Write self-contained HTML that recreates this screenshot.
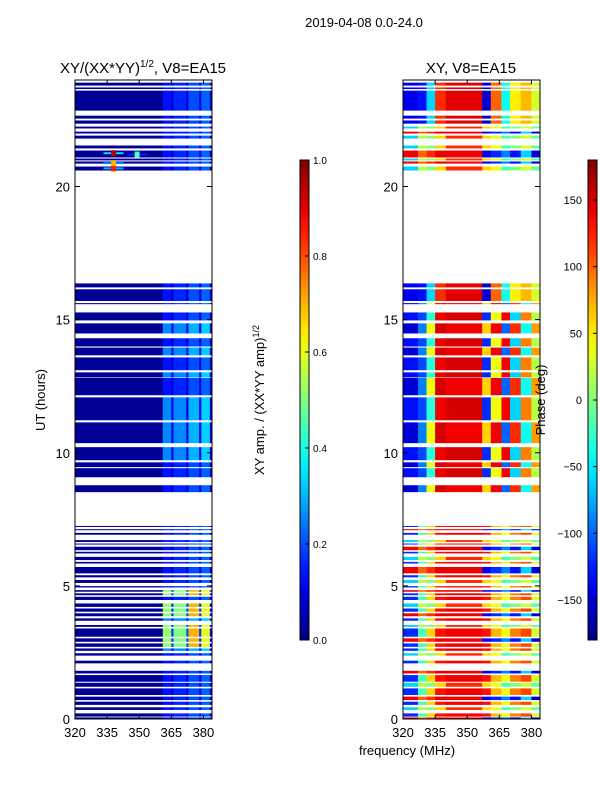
<!DOCTYPE html>
<html><head><meta charset="utf-8"><style>
body{margin:0;background:#fff;}
svg{font-family:"Liberation Sans",sans-serif;display:block}
</style></head><body>
<svg id="fig" width="600" height="800" xmlns="http://www.w3.org/2000/svg">
<text x="364" y="27" font-size="13" text-anchor="middle">2019-04-08 0.0-24.0</text>
<text x="143" y="73" font-size="15" text-anchor="middle">XY/(XX*YY)<tspan font-size="10" dy="-6">1/2</tspan><tspan dy="6">, V8=EA15</tspan></text>
<text x="471" y="73" font-size="15" text-anchor="middle">XY, V8=EA15</text>
<text x="45" y="400" font-size="13" text-anchor="middle" transform="rotate(-90 45 400)">UT (hours)</text>
<text x="407" y="755" font-size="13" text-anchor="middle">frequency (MHz)</text>
<text x="264" y="400" font-size="13" text-anchor="middle" transform="rotate(-90 264 400)">XY amp. / (XX*YY amp)<tspan font-size="9" dy="-5">1/2</tspan></text>
<g id="amp"></g>
<g id="ph"></g>
<g id="axes"></g>
<text x="545" y="400" font-size="13" text-anchor="middle" transform="rotate(-90 545 400)">Phase (deg)</text>
</svg>
<script>
const blockStart=[23.90,23.72,23.60,22.66,22.48,22.25,22.06,21.91,21.54,21.35,21.05,20.94,20.75,
16.36,16.14,15.62,15.27,14.86,14.30,13.95,13.58,13.02,12.81,12.08,11.14,10.21,9.64,9.42,8.78,
7.25,7.13,6.99,6.72,6.59,6.47,6.28,6.09,5.90,5.71,5.40,5.22,4.99,4.84,4.72,4.59,4.34,4.15,3.97,3.78,3.53,3.40,3.03,2.84,2.65,2.47,2.19,1.81,1.65,1.36,1.15,0.84,0.65,0.44,0.21,0.06];
const blockEnd=[23.79,23.66,22.85,22.55,22.36,22.18,21.99,21.80,21.43,21.09,20.98,20.86,20.60,
16.21,15.70,15.58,14.97,14.48,13.99,13.66,13.10,12.83,12.16,11.22,10.36,9.72,9.46,9.08,8.52,
7.22,7.09,6.92,6.65,6.56,6.34,6.22,5.97,5.84,5.47,5.32,5.11,4.94,4.78,4.65,4.47,4.21,4.03,3.86,3.69,3.46,3.09,2.90,2.71,2.56,2.38,2.09,1.71,1.40,1.21,0.90,0.71,0.53,0.34,0.09,0.00];
const ampProfile=["low","low","low","low","low","low","low","low","low","low","low","low","low",
"low","low","low","low","mid","low","mid","low","mid","low","mid","mid","mid","low","low","low",
"low","low","low","low","low","low","low","low","low","low","low","low","low","hot","hot","low","hot","hot","hot","mid","hot","hot","hot","hot","mid","low","low","low","low","low","low","low","low","low","low","low"];
const phaseProfile=["T1","T1","T1","T1","T1","L3","L2","L3","L3","L2","L3","L2","L3",
"T1","T1","P2","P1","P2","P1","P2","P1","P1","P2","P1","P2","P1","P2","P1","P2",
"L1","L2","L1","L3","L1","L2","L1","L3","L1","L2","L1","L3","L1","L2","L1","L1","L3","L1","L2","L1","L3","L1","L2","L1","L1","L3","L1","L2","L1","L3","L1","L2","L1","L3","L1","L2"];
const ampBandEdges=[320,361,365,366,372,373,378,379,383,384];
const ampLow=[0.02,0.14,0.08,0.16,0.08,0.2,0.09,0.22,0.08];
const ampMid=[0.02,0.26,0.12,0.26,0.12,0.3,0.12,0.33,0.1];
const ampHot=[0.02,0.52,0.18,0.5,0.2,0.7,0.18,0.6,0.12];
const phaseBandEdges=[320,327,331,335,340,357,361,366,370,375,380,384];
const phaseT1=[-140,-130,-60,120,145,-150,100,-40,50,70,30];
const phaseP1=[-130,-110,-30,140,150,-120,40,140,-60,90,20];
const phaseP2=[-150,-90,40,150,140,60,140,-100,120,-40,80];
const phaseL1=[-120,-20,60,130,140,130,70,40,90,110,30];
const phaseL2=[140,100,120,145,140,-140,-120,-90,-130,-60,-150];
const phaseL3=[-60,20,0,60,120,60,40,-20,0,30,-10];
const spotFreq=[338,338,338,349];
const spotHour=[21.25,20.68,20.88,21.2];
const spotAmp=[0.95,0.85,0.7,0.45];
const freqTicks=[320,335,350,365,380];
const hourTicks=[0,5,10,15,20];
const ampTicks=[0,0.2,0.4,0.6,0.8,1.0];
const ampTickLabels=["0.0","0.2","0.4","0.6","0.8","1.0"];
const phaseTicks=[-150,-100,-50,0,50,100,150];
const phaseTickLabels=["\u2212150","\u2212100","\u221250","0","50","100","150"];

const NS="http://www.w3.org/2000/svg";
const F0=320,F1=384,H0=0,H1=24,W=137;
const xL=f=>75+(f-F0)*W/(F1-F0);
const xR=f=>403+(f-F0)*W/(F1-F0);
const yH=h=>719-(h-H0)*639/(H1-H0);
const yA=v=>640-v*480;
const yP=p=>400-p*240/180;
function jet(v){v=Math.max(0,Math.min(1,v));
 const c=x=>Math.round(255*Math.max(0,Math.min(1,1.5-Math.abs(4*v-x))));
 return `rgb(${c(3)},${c(2)},${c(1)})`;}
function mk(tag,attrs,parent){const e=document.createElementNS(NS,tag);for(const k in attrs)e.setAttribute(k,attrs[k]);parent.appendChild(e);return e;}
const ampMap={low:ampLow,mid:ampMid,hot:ampHot};
const phMap={T1:phaseT1,P1:phaseP1,P2:phaseP2,L1:phaseL1,L2:phaseL2,L3:phaseL3};
const gA=document.getElementById('amp'),gP=document.getElementById('ph'),gX=document.getElementById('axes');
for(let i=0;i<blockStart.length;i++){
 const y1=yH(blockStart[i]),y2=yH(blockEnd[i]);
 const av=ampMap[ampProfile[i]];
 for(let b=0;b<av.length;b++){
  const r=mk('rect',{x:xL(ampBandEdges[b]),y:y1,width:xL(ampBandEdges[b+1])-xL(ampBandEdges[b])+0.3,height:Math.max(1,y2-y1),fill:jet(av[b])},gA);
  
  
 }
 const pv=phMap[phaseProfile[i]];
 for(let b=0;b<pv.length;b++){
  const r=mk('rect',{x:xR(phaseBandEdges[b]),y:y1,width:xR(phaseBandEdges[b+1])-xR(phaseBandEdges[b])+0.3,height:Math.max(1,y2-y1),fill:jet((pv[b]+180)/360)},gP);
  
  
 }
}
for(let i=0;i<spotFreq.length;i++){
 const cx=xL(spotFreq[i]),cy=yH(spotHour[i]);
 const h=mk('rect',{x:cx-10,y:cy-1,width:20,height:2,fill:jet(spotAmp[i]*0.35)},gA);
 
 
 const s=mk('rect',{x:cx-2.5,y:cy-3,width:5,height:6,fill:jet(spotAmp[i])},gA);
 
 
}
[[75,'amp-axes'],[403,'phase-axes']].forEach(([x0,n])=>{
 const r=mk('rect',{x:x0,y:80,width:W,height:639,fill:'none',stroke:'#000','stroke-width':1},gX);
 
 
 const sx=x0===75?xL:xR;
 freqTicks.forEach(f=>{
  mk('line',{x1:sx(f),x2:sx(f),y1:719,y2:715,stroke:'#000'},gX);
  mk('line',{x1:sx(f),x2:sx(f),y1:80,y2:84,stroke:'#000'},gX);
  const t=mk('text',{x:sx(f),y:737,'font-size':13,'text-anchor':'middle'},gX);t.textContent=f;
  
  
 });
 hourTicks.forEach(h=>{
  mk('line',{x1:x0,x2:x0+5,y1:yH(h),y2:yH(h),stroke:'#000'},gX);
  mk('line',{x1:x0+W,x2:x0+W-5,y1:yH(h),y2:yH(h),stroke:'#000'},gX);
  const t=mk('text',{x:x0-5,y:yH(h)+5,'font-size':13,'text-anchor':'end'},gX);t.textContent=h;
  
  
 });
});
const defs=mk('defs',{},gX);
const gr=mk('linearGradient',{id:'jetg',x1:0,y1:1,x2:0,y2:0},defs);
for(let i=0;i<=20;i++)mk('stop',{offset:i/20,'stop-color':jet(i/20)},gr);
const cb1=mk('rect',{x:300,y:160,width:9,height:480,fill:'url(#jetg)',stroke:'#000','stroke-width':1},gX);


ampTicks.forEach((v,i)=>{
 mk('line',{x1:305,x2:309,y1:yA(v),y2:yA(v),stroke:'#000'},gX);
 const t=mk('text',{x:313,y:yA(v)+4,'font-size':10},gX);t.textContent=ampTickLabels[i];
 
 
});
const cb2=mk('rect',{x:588,y:160,width:9,height:480,fill:'url(#jetg)',stroke:'#000','stroke-width':1},gX);


phaseTicks.forEach((v,i)=>{
 mk('line',{x1:593,x2:597,y1:yP(v),y2:yP(v),stroke:'#000'},gX);
 const t=mk('text',{x:582,y:yP(v)+4,'font-size':11,'text-anchor':'end'},gX);t.textContent=phaseTickLabels[i];
 
 
});
</script>
</body></html>
